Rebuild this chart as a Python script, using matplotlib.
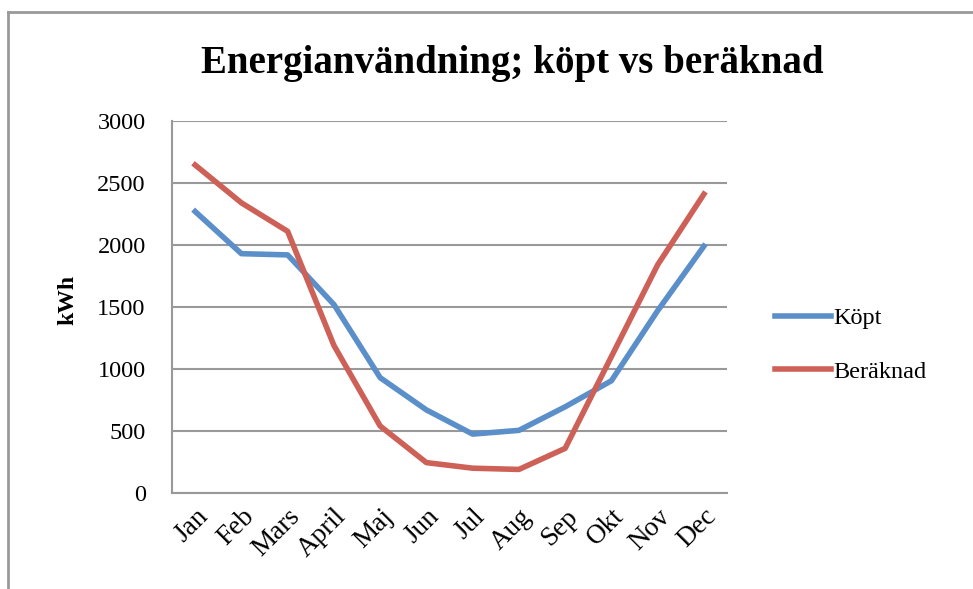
import matplotlib.pyplot as plt
from matplotlib.lines import Line2D

# Monthly energy use, bought vs calculated (kWh)
months = ["Jan", "Feb", "Mars", "April", "Maj", "Jun", "Jul", "Aug", "Sep", "Okt", "Nov", "Dec"]
kopt = [2270, 1930, 1920, 1520, 930, 670, 475, 505, 695, 905, 1470, 1990]
beraknad = [2645, 2340, 2110, 1190, 540, 245, 200, 190, 360, 1100, 1840, 2410]
yticks = [0, 500, 1000, 1500, 2000, 2500, 3000]

plt.rcParams["font.family"] = ["Liberation Serif", "DejaVu Serif"]

fig = plt.figure(figsize=(9.73, 5.89), dpi=100)
ax = fig.add_axes([0.1768, 0.1630, 0.5704, 0.6316])

x = range(len(months))
ax.plot(x, kopt, color="#5B8FC9", linewidth=4, label="Köpt", solid_joinstyle="round")
ax.plot(x, beraknad, color="#CD6057", linewidth=4, label="Beräknad", solid_joinstyle="round")

ax.set_xlim(-0.5, len(months) - 0.5)
ax.set_ylim(0, 3000)
ax.set_yticks(yticks)
ax.set_yticklabels([str(v) for v in yticks], fontsize=17.5)
ax.set_xticks(list(x))
ax.set_xticklabels(months, rotation=45, ha="right", rotation_mode="anchor", fontsize=19.5)
ax.tick_params(axis="y", length=0, pad=19)
ax.tick_params(axis="x", length=0, pad=8)

ax.grid(axis="y", color="#999999", linewidth=1.5)
ax.set_axisbelow(True)
for side in ["top", "right"]:
    ax.spines[side].set_visible(False)
for side in ["left", "bottom"]:
    ax.spines[side].set_color("#999999")
    ax.spines[side].set_linewidth(1.5)

ax.set_ylabel("kWh", fontsize=17, fontweight="bold")
ax.yaxis.set_label_coords(-0.169, 0.519)

fig.text(0.527, 0.893, "Energianvändning; köpt vs beräknad", ha="center", va="center",
         fontsize=28, fontweight="bold")

ax.legend(loc="center left", bbox_to_anchor=(1.047, 0.398), frameon=False, fontsize=17.5,
          handlelength=2.3, handletextpad=0.1, labelspacing=1.3)

# Chart-area frame (top and left edges)
fig.add_artist(Line2D([8 / 973, 8 / 973], [0, 1 - 12 / 589], transform=fig.transFigure,
                      color="#999999", linewidth=2))
fig.add_artist(Line2D([8 / 973, 1], [1 - 12 / 589, 1 - 12 / 589], transform=fig.transFigure,
                      color="#999999", linewidth=2))

fig.savefig("out.png", dpi=100)
